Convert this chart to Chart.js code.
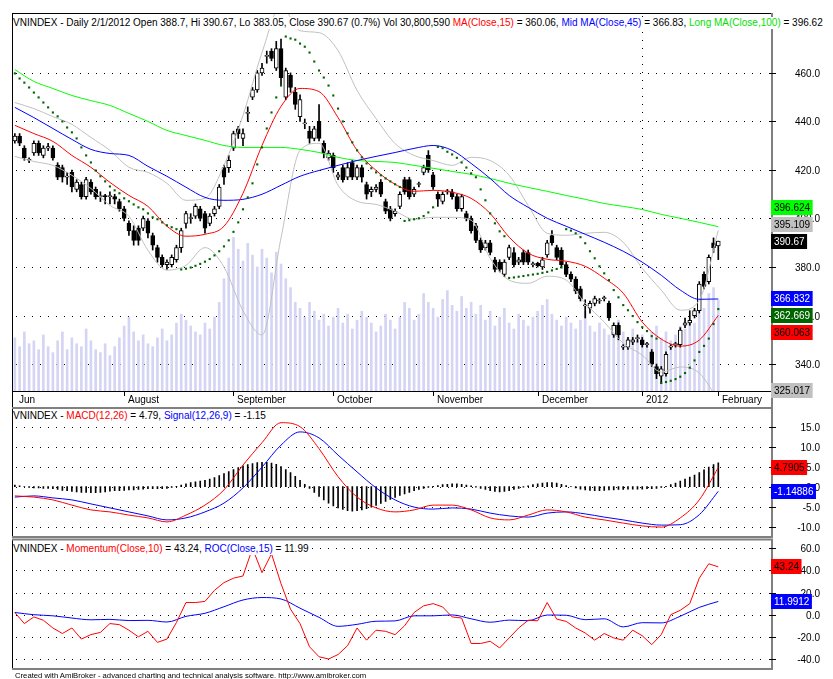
<!DOCTYPE html>
<html><head><meta charset="utf-8">
<script src="https://cdn.jsdelivr.net/npm/chart.js@4.4.1/dist/chart.umd.min.js"></script>
<style>
html,body{margin:0;padding:0;background:#fff;width:833px;height:679px;overflow:hidden;position:relative;}
canvas{position:absolute;left:0;}
.t{position:absolute;left:13px;font-family:"Liberation Sans",Arial,sans-serif;font-size:10px;line-height:12px;white-space:nowrap;background:#fff;color:#000;padding-right:2px;}
.r{color:#ff0000}.b{color:#0000ff}.g{color:#00e000}
.foot{position:absolute;left:15px;top:671px;font-family:"Liberation Sans",Arial,sans-serif;font-size:7.7px;line-height:9px;white-space:nowrap;color:#000;}
</style></head><body>
<canvas id="cMain" width="833" height="408" style="top:0px"></canvas>
<canvas id="cMacd" width="833" height="140" style="top:400px"></canvas>
<canvas id="cMom" width="833" height="141" style="top:538px"></canvas>
<div class="t" style="top:17px">VNINDEX - Daily 2/1/2012 Open 388.7, Hi 390.67, Lo 383.05, Close 390.67 (0.7%) Vol 30,800,590 <span class="r">MA(Close,15)</span> = 360.06, <span class="b">Mid MA(Close,45)</span> = 366.83, <span class="g">Long MA(Close,100)</span> = 396.62</div>
<div class="t" style="top:410px">VNINDEX - <span class="r">MACD(12,26)</span> = 4.79, <span class="b">Signal(12,26,9)</span> = -1.15</div>
<div class="t" style="top:543px">VNINDEX - <span class="r">Momentum(Close,10)</span> = 43.24, <span class="b">ROC(Close,15)</span> = 11.99</div>
<div class="foot">Created with AmiBroker - advanced charting and technical analysis software. http://www.amibroker.com</div>
<script>
// ---------- DATA ----------
const monthLabels = ['Jun','August','September','October','November','December','2012','February'];
const monthIdx    = [0, 23, 46, 67, 88, 110, 132, 148];
const priceTicks = [340, 360, 380, 400, 420, 440, 460];
const macdTicks  = [-10, -5, 0, 5, 10, 15];
const momTicks   = [-40, -20, 0, 20, 40, 60];

const opens = [432,434,429,424,427,431,426,429,429,422,421,417,419,412,414,409,415,412,409,409.2,409,409,407,404,398,395,396,396,399,393,388,384,381,381,383,388,398,400,401,404,402,398,402,405,421,421,429,437,433,443.3,450,453,460,466.8,469,462,470,450,459,452,442,439,436,433,440,431,425,426,417,421,417,423,417,421,414,411,412,415,407,404,402,405,416,416,410,414,419,426,418,410,407,411,411,409,404,402,400,397,391,388,390,383,382,377,384,386,382,386,386,381,381.5,380,385,393,388,387,381,377,375,371,364,363,365,366,367,365,352,356,347,347,349,350.5,350,348,345,339,335,336,347,348,348,356,357,360,362,377,374,390,388.7];
const highs = [435,435,430,425,432,432,430,431,430,423,422,419,420,416,415,417,416,413,411,410,411,410,408,405,399,397,397,401,400,394,389,385,383,385,389,396,403,402,406,405,403,402,405,414,422,426,436,438,437,446,454,461,464,469,470,473,474,462,460,454,451,441,438,438,447,432,428,427,419,422,423,424,422,422,415,413,414,416,408,405,404,411,417,417,413,415,422,428,419,411,411,412,412,410,410,403,401,398,392,391,391,384,383,383,389,388,384,387,387,382,382,384,391,395,389,388,382,378,376,372,366.5,366,368,367,368,366,357,357,348,351,351,352,351,349,346,340,339,345,348,349,355,359,362,363,374,378,385,392,390.67];
const lows = [431,430,424,423,426,426,425,428,424,416,415,414,411,411,408,408,410,408,407,406,406,406,403,399,393,389,389,395,392,387,382,380,379,380,382,386,396,398,400,399,394,397,401,404,414,419,428,433,430,440,449,452,459,464,465,461,455,449,452,445,440,437,431,432,432,425,424,419,416,415,416,416,416,415,408,409,411,409,402,399,401,404,410,408,409,413,418,419,412,405,406,410,408,403,403,399,394,390,386,387,385,378,378,376,383,380,381,381,381,380,380,379,384,389,383,380,376,374,369,366,359,361,364,365,366,358,351,350,346,346,348,349,347,347,339,334,332,335,346,347,347,355,356,359,361,371,373,386,383.05];
const closes = [434,431,425,424.3,431,427,429,429.6,425,417,417,417.5,413,415,409,416,411,409,409.3,409,409.3,408,404,400,395,391,391,400,394,389,384,381,382,384,388,395,402,400.3,405,400,396,401,404,413,417,424,435,435,435,443.6,453,460,462,467,466,470,458,461,454,447,449,439.3,433,437,433,427,427,421,418,416,421,417,421,417,410,412,413,410,403,400,403,410,411,409,412,414.3,421,420,413,408,410,411.3,409,404,409,400,395,391,387,390,386,379,379,382,388,381,383,382,382,381.3,380.5,383,390,390,384,381,377,375,370,367,364.3,365,367,366.3,367.3,359,356,352,347.3,350,350,350.8,348,348.3,340,336,338,344,347.3,348.3,354,357,358,362,373,372,384,388,390.67];
const volumes = [18,15,20,16,17,14,19,15,13,17,20,14,18,16,15,21,17,14,13,16,12,15,18,
  22,25,20,17,19,16,15,18,21,17,19,23,26,24,22,20,19,23,21,25,
  30,38,45,52,48,44,50,46,42,48,45,40,47,43,38,35,30,
  28,25,30,27,24,26,22,25,28,23,26,21,24,27,25,23,20,22,26,24,21,25,30,28,24,26,
  33,30,28,25,31,34,29,27,32,28,30,26,29,
  24,27,22,25,28,23,21,26,24,22,25,27,29,31,26,24,22,
  25,23,21,24,27,22,20,23,21,19,22,24,20,18,21,17,19,16,20,22,
  18,20,17,19,22,21,24,23,26,28,33,35,30.8];
const sar = [459.8,457.7,456.0,454.0,451.9,449.9,447.8,445.8,443.7,442.1,440.0,437.5,435.5,433.0,429.3,426.0,423.1,419.8,417.4,415.3,413.2,411.6,410.4,408.3,407.1,405.8,404.6,403.8,402.1,400.5,399.7,398.4,397.2,396.4,395.6,
  379.0,379.3,379.8,380.5,381.3,382.2,383.3,384.8,386.5,388.5,391.0,394.5,398.4,403.8,408.7,414.5,422.3,429.3,437.1,443.7,449.9,454.8,
  475.0,474.2,473.7,472.1,470.8,468.4,464.7,461.0,458.1,454.8,450.7,445.3,440.0,435.1,431.4,428.1,425.2,422.7,420.7,419.0,417.8,416.5,415.3,414.1,413.0,
  399.0,399.3,399.7,400.1,401.0,402.5,404.6,
  429.5,429.0,427.5,426.4,425.0,423.1,421.0,418.6,417.0,412.0,407.5,402.1,398.0,394.7,392.7,
  375.5,375.7,376.0,376.3,376.6,376.9,377.2,377.6,378.0,378.6,379.2,379.8,
  395.6,395.0,393.9,392.3,389.8,386.5,383.6,380.3,377.4,374.6,370.5,367.5,364.3,362.2,359.8,357.3,355.2,353.6,351.5,350.5,
  332.2,332.6,333.1,333.8,334.8,336.3,338.5,341.5,345.0,347.5,350.5,356.5,362.669];

// smooth indicator lines read every LINE_STEP bars
const LINE_STEP = 4;
const ma15  = [438.4,435.0,431.8,426.0,421.1,414.9,409.5,405.0,396.8,392.7,393.5,396.8,410.4,430.1,446.2,453.6,452.3,441.6,428.1,419.8,414.1,411.2,411.6,410.8,408.3,402.1,392.3,385.7,383.2,382.4,380.3,375.4,369.2,357.3,350.3,347.4,349.9,360.063];
const ma45  = [445.8,441.6,437.1,432.6,428.5,426.8,426.0,421.5,417.4,412.9,408.7,407.5,407.9,410.0,413.7,417.4,419.8,421.9,423.9,425.6,427.2,428.9,430.1,428.1,422.7,416.5,409.5,404.6,400.1,396.8,393.5,390.2,386.5,382.0,376.6,370.5,366.7,366.832];
const ma100 = [461.4,456.5,453.6,450.7,448.6,446.6,443.3,440.0,436.3,434.2,432.2,430.1,429.3,429.3,429.3,428.5,427.2,425.2,423.9,423.5,423.1,421.9,420.7,419.4,418.2,416.5,414.5,412.8,411.2,409.5,407.9,406.2,405.0,403.7,401.7,400.1,398.4,396.624];
const bbUpper = [447.8,445.3,442.0,438.8,433.4,428.1,421.1,419.0,414.5,407.5,408.3,421.9,442.5,468.4,487.7,477.4,476.6,469.2,452.8,441.2,430.9,426.0,423.9,421.9,425.2,423.9,417.8,405.4,393.9,393.1,393.9,394.3,390.2,379.5,370.5,362.2,366.3,395.109];
const bbLower = [425.6,423.5,421.9,417.8,412.4,405.4,400.9,386.9,378.7,380.7,388.0,380.0,362.0,352.0,392.0,428.1,431.0,413.7,407.1,405.8,403.0,399.7,400.5,400.5,399.3,383.6,374.6,373.3,376.2,374.6,365.1,357.3,348.6,343.7,336.7,338.8,336.3,325.017];
const macdLine   = [-2.3,-2.6,-3.3,-4.6,-5.8,-6.3,-7.1,-7.8,-8.8,-7.1,-4.6,-0.8,5.4,11.0,16.0,15.0,9.5,2.5,-2.6,-5.3,-6.3,-5.8,-4.6,-4.6,-5.8,-7.8,-8.3,-7.1,-5.8,-6.3,-7.6,-8.3,-9.1,-9.8,-10.1,-7.8,-3.3,4.7905];
const signalLine = [-2.6,-2.3,-2.8,-3.3,-4.3,-5.3,-6.3,-7.3,-8.3,-7.8,-6.3,-4.1,-0.3,4.9,10.4,13.7,12.2,7.9,3.7,-0.3,-3.3,-5.1,-5.6,-5.3,-5.6,-6.6,-7.3,-7.6,-6.6,-6.3,-6.8,-7.6,-8.3,-9.1,-9.6,-9.5,-7.0,-1.14886];
const macdHist = [0.4,0.2,0.0,-0.2, -0.3,-0.3,-0.4,-0.4, -0.5,-0.7,-0.9,-1.0, -1.2,-1.3,-1.4,-1.4, -1.5,-1.5,-1.4,-1.3, -1.1,-1.0,-1.0,-0.9,
  -0.8,-0.8,-0.7,-0.6, -0.5,-0.5,-0.5,-0.5, -0.4,-0.2,0.1,0.4, 0.7,1.0,1.2,1.4, 1.6,1.9,2.3,2.8, 3.3,3.8,4.3,4.8,
  5.2,5.5,5.8,6.0, 6.1,6.1,5.9,5.6, 5.0,4.3,3.5,2.6, 1.6,0.6,-0.4,-1.4, -2.4,-3.3,-4.1,-4.8, -5.3,-5.7,-6.0,-6.1,
  -6.0,-5.8,-5.5,-5.1, -4.7,-4.2,-3.7,-3.2, -2.7,-2.2,-1.8,-1.4, -1.0,-0.7,-0.4,-0.2, 0.1,0.3,0.5,0.6, 0.7,0.7,0.6,0.4,
  0.2,-0.1,-0.4,-0.7, -1.0,-1.2,-1.3,-1.2, -1.0,-0.7,-0.4,-0.1, 0.2,0.5,0.7,0.9, 1.0,1.0,0.9,0.6, 0.3,0.0,-0.3,-0.6,
  -0.8,-0.9,-1.0,-1.0, -0.9,-0.8,-0.8,-0.7, -0.7,-0.6,-0.6,-0.6, -0.6,-0.5,-0.5,-0.4, -0.2,0.1,0.5,0.9,
  1.4,1.9,2.4,2.9, 3.5,4.2,4.9,5.5, 5.94];
const MOM_STEP = 2;
const momentum = [2,-8,-2,-5,-12, -17,-12,-22,-18,-16, -8,-9,-14,-20,-15, -25,-22,-7,11,11, 12,22,29,33,35,
  60,38,55,28,5, -8,-29,-38,-40,-36, -28,-12,-23,-14,-15, -18,-10,2,8,10, 7,-2,-3,-26,-26,
  -24,-30,-21,-12,-5, -5.5,11,-4,-6,-12, -16.5,-23,-17,-21,-23, -14,-19,-27,-18,0, 4,10,33,46,43.24];
const ROC_STEP = 4;
const roc = [2,0,-1,-3,-4.6,-4.2,-5.3,-5.1,-6.6,-1.5,1.3,7.2,13.3,15.5,14.2,5.9,-2.4,-10.5,-8.7,-5.9,-5.6,-1.0,-1.0,-0.2,-3.7,-6.8,-4.9,-5.4,-0.3,-0.5,-4.5,-3.7,-11.0,-7.2,-7.4,-1.4,6.6,11.9912];

// ---------- helpers ----------
const X_MIN = -0.6, X_MAX = 159.3;
const FONT = '10px "Liberation Sans", Arial, sans-serif';
const pts = (arr, step) => arr.map((v, k) => ({x: k * step, y: v}));
const last = a => a[a.length - 1];
function fmtBox(v) {
  let s = v.toPrecision(6);
  if (s.indexOf('.') >= 0) s = s.replace(/0+$/, '').replace(/\.$/, '');
  return s;
}
function line(ctx, x1, y1, x2, y2) { ctx.beginPath(); ctx.moveTo(x1, y1); ctx.lineTo(x2, y2); ctx.stroke(); }

const panelPlugin = {
  id: 'panel',
  beforeDatasetsDraw(chart, args, o) {
    const {ctx, chartArea: a} = chart;
    const ys = chart.scales.y, xs = chart.scales.x;
    ctx.save();
    ctx.strokeStyle = '#000'; ctx.lineWidth = 1; ctx.setLineDash([1, 7]);
    for (const t of o.ticks) {
      const py = Math.round(ys.getPixelForValue(t)) + 0.5;
      line(ctx, a.left + 4, py, a.right - 4, py);
    }
    if (o.sep !== undefined) {
      const px = Math.round(xs.getPixelForValue(o.sep)) + 0.5;
      line(ctx, px, a.top + 3, px, a.bottom);
    }
    ctx.restore();
  },
  afterDraw(chart, args, o) {
    const {ctx, chartArea: a} = chart;
    const ys = chart.scales.y, xs = chart.scales.x;
    ctx.save();
    ctx.setLineDash([]);
    // frame
    ctx.strokeStyle = '#000'; ctx.lineWidth = 1;
    line(ctx, a.left + 0.5, o.frameTop, a.left + 0.5, o.frameBottom);
    if (o.topBlack) line(ctx, a.left, a.top + 0.5, a.right, a.top + 0.5);
    if (o.bottomBlack) line(ctx, a.left, a.bottom + 0.5, a.right, a.bottom + 0.5);
    ctx.strokeStyle = '#808080'; ctx.lineWidth = 2;
    if (!o.topBlack) line(ctx, a.left, a.top + 0.5, a.right + 1, a.top + 0.5);
    if (!o.bottomBlack) line(ctx, a.left, a.bottom, a.right + 1, a.bottom);
    line(ctx, a.right, o.frameTop, a.right, o.frameBottom);
    // ticks + labels
    ctx.font = FONT; ctx.fillStyle = '#000'; ctx.strokeStyle = '#000'; ctx.lineWidth = 1;
    ctx.textAlign = 'right'; ctx.textBaseline = 'middle';
    for (const t of o.ticks) {
      const py = Math.round(ys.getPixelForValue(t)) + 0.5;
      line(ctx, a.right - 3, py, a.right + 4, py);
      ctx.fillText(t.toFixed(1), 820, py + 0.5);
    }
    // month labels
    if (o.months) {
      ctx.textAlign = 'left';
      o.months.labels.forEach((lab, k) => {
        const px = Math.round(xs.getPixelForValue(o.months.idx[k])) + 0.5;
        if (k > 0) line(ctx, px, a.bottom, px, a.bottom + 5);
        ctx.fillText(lab, px + 3.5, a.bottom + 9);
      });
    }
    // value boxes
    const boxes = o.boxes.map(b => Object.assign({}, b, {y: ys.getPixelForValue(b.v)}));
    const anchor = boxes[0];
    const ups = boxes.slice(1).filter(b => b.v > anchor.v).sort((p, q) => p.v - q.v);
    const downs = boxes.slice(1).filter(b => b.v <= anchor.v).sort((p, q) => q.v - p.v);
    let prev = anchor.y;
    for (const b of ups) { b.y = Math.min(b.y, prev - 17); prev = b.y; }
    prev = anchor.y;
    for (const b of downs) { b.y = Math.max(b.y, prev + 17); prev = b.y; }
    ctx.textAlign = 'left';
    for (const b of boxes) {
      const cy = Math.min(Math.max(b.y, a.top + 8), a.bottom - 1);
      const txt = fmtBox(b.v);
      const w = ctx.measureText(txt).width + 5.5;
      ctx.fillStyle = b.bg;
      ctx.fillRect(a.right - 1, Math.round(cy - 7.5), w, 15);
      ctx.fillStyle = b.fg;
      ctx.fillText(txt, a.right + 2, Math.round(cy - 7.5) + 8);
    }
    ctx.restore();
  }
};

function baseOpts(yMin, yMax, padding, extraScales) {
  const scales = {
    x: {type: 'linear', min: X_MIN, max: X_MAX, display: false, offset: false},
    y: {type: 'linear', min: yMin, max: yMax, display: false}
  };
  Object.assign(scales, extraScales || {});
  return {
    responsive: false, animation: false, events: [],
    layout: {padding},
    plugins: {legend: {display: false}, tooltip: {enabled: false}},
    scales
  };
}
const lineDs = (data, color, order, extra) => Object.assign({
  type: 'line', data, borderColor: color, borderWidth: 1, pointRadius: 0,
  fill: false, order, clip: 0
}, extra || {});

// ---------- MAIN PRICE PANEL ----------
const idx = opens.map((_, i) => i);
const mainOpts = baseOpts(328.9, 484.7, {left: 12, right: 61, top: 13, bottom: 17},
  {yv: {type: 'linear', min: 0, max: 128, display: false}});
mainOpts.plugins.panel = {
  ticks: priceTicks, sep: monthIdx[6], frameTop: 13, frameBottom: 408,
  topBlack: true, bottomBlack: true,
  months: {labels: monthLabels, idx: monthIdx},
  boxes: [
    {v: last(closes), bg: '#000000', fg: '#ffffff'},
    {v: last(bbUpper), bg: '#c0c0c0', fg: '#000000'},
    {v: last(ma100), bg: '#00ff00', fg: '#000000'},
    {v: last(ma45), bg: '#0000ff', fg: '#ffffff'},
    {v: last(sar), bg: '#006400', fg: '#ffffff'},
    {v: last(ma15), bg: '#ff0000', fg: '#000000'},
    {v: last(bbLower), bg: '#c0c0c0', fg: '#000000'}
  ]
};
new Chart(document.getElementById('cMain'), {
  type: 'bar',
  data: {datasets: [
    {type: 'bar', yAxisID: 'yv', data: idx.map(i => ({x: i, y: volumes[i]})),
     backgroundColor: '#d4d4f4', barThickness: 2, grouped: false, order: 10, clip: 0},
    {type: 'bar', data: idx.map(i => ({x: i, y: [lows[i], highs[i]]})),
     backgroundColor: '#000', barThickness: 1, grouped: false, order: 9, clip: 0},
    {type: 'bar', data: idx.map(i => ({x: i, y: [opens[i], closes[i]]})),
     backgroundColor: idx.map(i => closes[i] >= opens[i] ? '#ffffff' : '#000000'),
     borderColor: '#000', borderWidth: 1, borderSkipped: false, minBarLength: 1,
     barThickness: 4, grouped: false, order: 8, clip: 0},
    lineDs(pts(bbUpper, LINE_STEP), '#c0c0c0', 7, {cubicInterpolationMode: 'monotone'}),
    lineDs(pts(bbLower, LINE_STEP), '#c0c0c0', 7, {cubicInterpolationMode: 'monotone'}),
    lineDs(pts(ma100, LINE_STEP), '#00ff00', 6, {cubicInterpolationMode: 'monotone'}),
    lineDs(pts(ma45, LINE_STEP), '#0000ff', 5, {cubicInterpolationMode: 'monotone'}),
    lineDs(pts(ma15, LINE_STEP), '#ff0000', 4, {cubicInterpolationMode: 'monotone'}),
    {type: 'line', data: pts(sar, 1), showLine: false, pointStyle: 'rect', pointRadius: 1.5,
     pointBackgroundColor: '#006400', pointBorderWidth: 0, order: 1, clip: 0}
  ]},
  options: mainOpts,
  plugins: [panelPlugin]
});

// ---------- MACD PANEL ----------
const macdOpts = baseOpts(-12.575, 19.8, {left: 12, right: 61, top: 7.5, bottom: 3});
macdOpts.plugins.panel = {
  ticks: macdTicks, frameTop: 7, frameBottom: 137,
  boxes: [
    {v: last(macdLine), bg: '#ff0000', fg: '#000000'},
    {v: last(signalLine), bg: '#0000ff', fg: '#ffffff'}
  ]
};
new Chart(document.getElementById('cMacd'), {
  type: 'bar',
  data: {datasets: [
    {type: 'bar', data: idx.map(i => ({x: i, y: macdHist[i]})), backgroundColor: '#000',
     barThickness: 1, grouped: false, order: 5, clip: 0},
    lineDs(pts(signalLine, LINE_STEP), '#0000ff', 3, {cubicInterpolationMode: 'monotone'}),
    lineDs(pts(macdLine, LINE_STEP), '#ff0000', 2, {cubicInterpolationMode: 'monotone'})
  ]},
  options: macdOpts,
  plugins: [panelPlugin]
});

// ---------- MOMENTUM / ROC PANEL ----------
const momOpts = baseOpts(-49.05, 68.4, {left: 12, right: 61, top: 1, bottom: 10});
momOpts.plugins.panel = {
  ticks: momTicks, frameTop: 1, frameBottom: 131,
  boxes: [
    {v: last(momentum), bg: '#ff0000', fg: '#000000'},
    {v: last(roc), bg: '#0000ff', fg: '#ffffff'}
  ]
};
new Chart(document.getElementById('cMom'), {
  type: 'line',
  data: {datasets: [
    lineDs(pts(roc, ROC_STEP), '#0000ff', 3, {cubicInterpolationMode: 'monotone'}),
    lineDs(pts(momentum, MOM_STEP), '#ff0000', 2)
  ]},
  options: momOpts,
  plugins: [panelPlugin]
});
</script>
</body></html>
